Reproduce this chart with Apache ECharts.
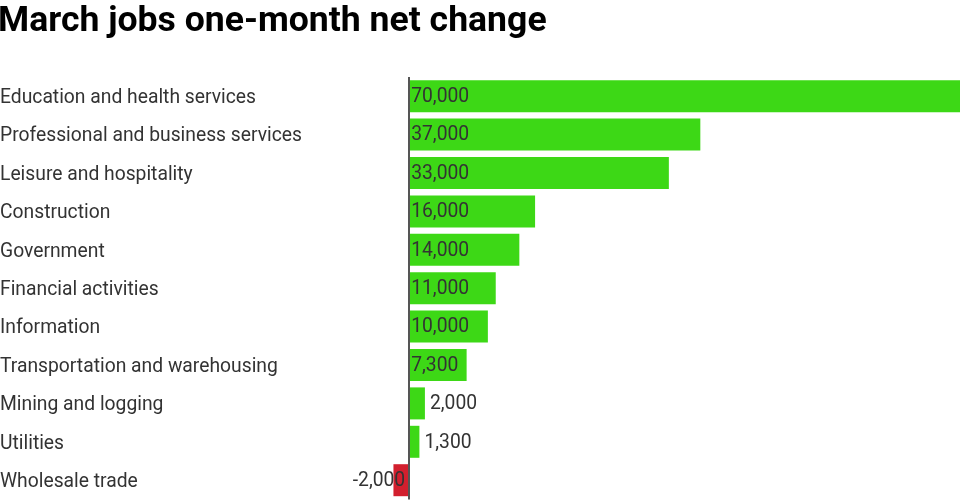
<!DOCTYPE html>
<html><head><meta charset="utf-8">
<script src="https://cdn.jsdelivr.net/npm/echarts@6/dist/echarts.min.js"></script>
<style>html,body{margin:0;padding:0;background:#fff;}#c{width:960px;height:503px;}</style>
</head><body><div id="c"></div>
<script>
var title = 'March jobs one-month net change';
var categories = ['Education and health services','Professional and business services','Leisure and hospitality','Construction','Government','Financial activities','Information','Transportation and warehousing','Mining and logging','Utilities','Wholesale trade'];
var values = [70000,37000,33000,16000,14000,11000,10000,7300,2000,1300,-2000];

var green = '#3dd816', red = '#d21f2e';
function fmt(v){ return v.toLocaleString('en-US'); }
var data = values.map(function(v){
  var d = {value: v, itemStyle: {color: v < 0 ? red : green}};
  if (v < 0) d.label = {position: 'insideRight', align: 'right', offset: [-2, 1]};
  else if (v < 5000) d.label = {position: 'right', distance: 5};
  return d;
});

var chart = echarts.init(document.getElementById('c'), null, {renderer: 'canvas'});
chart.setOption({
  animation: false,
  title: {text: title, left: -2, top: 4, padding: 0, textStyle: {fontFamily: 'Roboto', fontWeight: 'bold', fontSize: 35.6, color: '#000'}},
  grid: {left: 0, right: 0, top: 77, bottom: 3.6, containLabel: false, outerBoundsMode: 'none'},
  xAxis: {type: 'value', min: -52000, max: 70000, show: false, splitLine: {show: false}},
  yAxis: {type: 'category', data: categories, inverse: true,
    axisLine: {show: false}, axisTick: {show: false}, splitLine: {show: false},
    axisLabel: {inside: true, margin: 0, align: 'left',
      formatter: function(v){ return '{a|' + v + '}'; },
      rich: {a: {padding: [4, 0, 0, 0], fontFamily: 'Roboto', fontSize: 19.3, color: '#333'}}}},
  series: [{
    type: 'bar', data: data, barWidth: 32,
    label: {show: true, position: 'insideLeft', distance: 2, offset: [0, 1], formatter: function(p){ return fmt(p.value); },
      fontFamily: 'Roboto', fontSize: 19.3, color: '#333'},
    markLine: {silent: true, symbol: 'none', label: {show: false},
      lineStyle: {color: '#555', width: 2, type: 'solid'},
      data: [{xAxis: 0}]}
  }]
});
</script></body></html>
